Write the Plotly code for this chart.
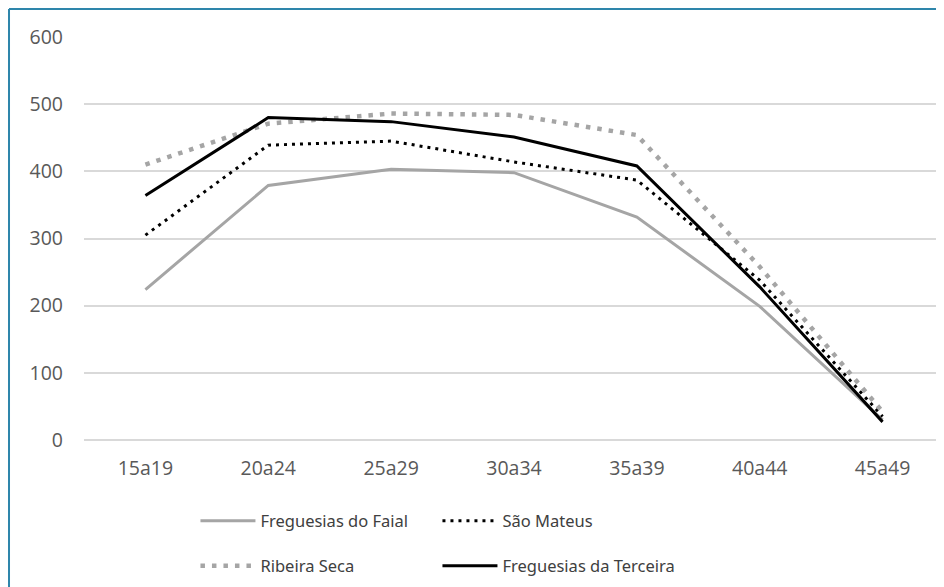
import plotly.graph_objects as go

categories = ["15a19", "20a24", "25a29", "30a34", "35a39", "40a44", "45a49"]
faial = [224, 379, 403, 398, 332, 199, 30]
sao_mateus = [305, 439, 445, 414, 387, 238, 35]
ribeira_seca = [410, 471, 486, 484, 454, 258, 42]
terceira = [364, 480, 474, 451, 408, 228, 27]
y_ticks = [0, 100, 200, 300, 400, 500, 600]

fig = go.Figure()
fig.add_trace(go.Scatter(x=categories, y=faial, name="Freguesias do Faial", mode="lines",
                         line=dict(color="#a5a5a5", width=3), legend="legend"))
fig.add_trace(go.Scatter(x=categories, y=sao_mateus, name="São Mateus", mode="lines",
                         line=dict(color="#000000", width=3, dash="3px,5px"), legend="legend"))
fig.add_trace(go.Scatter(x=categories, y=ribeira_seca, name="Ribeira Seca", mode="lines",
                         line=dict(color="#a5a5a5", width=4.5, dash="4.5px,7px"), legend="legend2"))
fig.add_trace(go.Scatter(x=categories, y=terceira, name="Freguesias da Terceira", mode="lines",
                         line=dict(color="#000000", width=3), legend="legend2"))

legend_common = dict(orientation="h", xanchor="left", yanchor="middle", entrywidth=172,
                     entrywidthmode="pixels", itemwidth=55, bgcolor="rgba(0,0,0,0)",
                     font=dict(family="Noto Sans", size=16.5, color="#404040"), traceorder="normal")

fig.update_layout(
    width=944, height=587,
    margin=dict(l=76, r=8, t=29, b=155),
    paper_bgcolor="white", plot_bgcolor="white",
    showlegend=True,
    legend=dict(x=0.1296, y=-0.201, **legend_common),
    legend2=dict(x=0.1296, y=-0.313, **legend_common),
    xaxis=dict(type="category", showgrid=False, zeroline=False, showline=False,
               ticks="", ticklabelstandoff=14,
               tickfont=dict(family="Open Sans", size=19.5, color="#595959"),
               range=[-0.5, 6.5]),
    yaxis=dict(range=[0, 600], tickvals=y_ticks, showgrid=True, gridcolor="#d9d9d9",
               gridwidth=1.5, zeroline=True, zerolinecolor="#d9d9d9", zerolinewidth=1.5,
               showline=False, ticks="", ticklabelstandoff=20,
               tickfont=dict(family="Open Sans", size=19.5, color="#595959")),
    shapes=[
        dict(type="line", xref="paper", yref="paper", x0=-0.0872, x1=1.01, y0=1.0695, y1=1.0695,
             line=dict(color="#2e86ab", width=2)),
        dict(type="line", xref="paper", yref="paper", x0=-0.0872, x1=-0.0872, y0=1.0695, y1=-0.4,
             line=dict(color="#2e86ab", width=2)),
    ],
)

fig.write_html("out.html")
